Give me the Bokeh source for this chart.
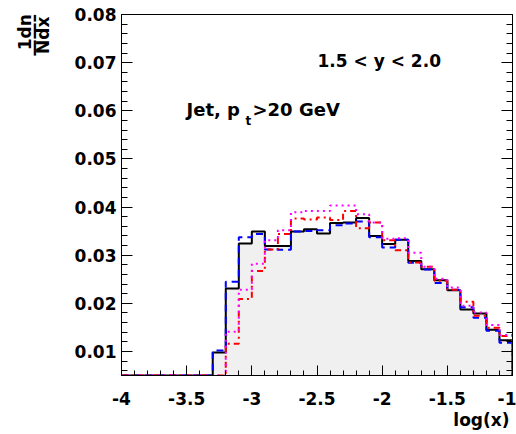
from bokeh.plotting import figure
from bokeh.models import Range1d, FixedTicker, LinearAxis, Label, Title
from bokeh.embed import file_html
from bokeh.resources import INLINE

# ---------------- data ----------------
bin_edges_lo = -4.0
bin_width = 0.1
n_bins = 30

black_vals = [0, 0, 0, 0, 0, 0, 0,
              0.0098, 0.0231, 0.0324, 0.0349, 0.0319, 0.0319, 0.0349, 0.0354, 0.0345,
              0.0367, 0.0368, 0.0377, 0.0340, 0.0323, 0.0332, 0.0288, 0.0271, 0.0248,
              0.0227, 0.0187, 0.0179, 0.0145, 0.0123]
blue_vals = [0, 0, 0, 0, 0, 0, 0,
             0.0102, 0.0245, 0.0337, 0.0344, 0.0312, 0.0311, 0.0349, 0.0350, 0.0352,
             0.0362, 0.0366, 0.0370, 0.0337, 0.0316, 0.0332, 0.0284, 0.0270, 0.0242,
             0.0228, 0.0192, 0.0170, 0.0143, 0.0118]
red_vals = [0, 0, 0, 0, 0, 0, 0,
            0.0030, 0.0116, 0.0209, 0.0267, 0.0312, 0.0344, 0.0376, 0.0374, 0.0378,
            0.0373, 0.0392, 0.0356, 0.0368, 0.0331, 0.0310, 0.0285, 0.0276, 0.0247,
            0.0228, 0.0203, 0.0174, 0.0149, 0.0132]
magenta_vals = [0, 0, 0, 0, 0, 0, 0,
                0.0030, 0.0141, 0.0228, 0.0282, 0.0331, 0.0352, 0.0389, 0.0392, 0.0392,
                0.0403, 0.0403, 0.0385, 0.0368, 0.0334, 0.0335, 0.0305, 0.0276, 0.0251,
                0.0233, 0.0195, 0.0181, 0.0155, 0.0134]

x_ticks = [-4, -3.5, -3, -2.5, -2, -1.5, -1]
x_tick_labels = ["-4", "-3.5", "-3", "-2.5", "-2", "-1.5", "-1"]
y_ticks = [0.01, 0.02, 0.03, 0.04, 0.05, 0.06, 0.07, 0.08]
y_tick_labels = ["0.01", "0.02", "0.03", "0.04", "0.05", "0.06", "0.07", "0.08"]

X_MIN, X_MAX = -4.0, -1.0
Y_MIN, Y_MAX = 0.005, 0.08

# ---------------- layout ----------------
W, H = 516, 434
LEFT, RIGHT, TOP, BOTTOM = 121, 4, 14, 59
FW = W - LEFT - RIGHT
FH = H - TOP - BOTTOM

def dx(px):
    return X_MIN + (px - LEFT) / FW * (X_MAX - X_MIN)

def dy(py):
    return Y_MAX - (py - TOP) / FH * (Y_MAX - Y_MIN)

FONT = "DejaVu Sans"

p = figure(width=W, height=H, x_range=Range1d(X_MIN, X_MAX), y_range=Range1d(Y_MIN, Y_MAX),
           output_backend="svg", toolbar_location=None, title=None,
           min_border_left=LEFT, min_border_right=RIGHT, min_border_top=TOP,
           min_border_bottom=BOTTOM)
p.background_fill_color = "white"
p.border_fill_color = "white"
p.outline_line_color = "black"
p.outline_line_width = 1
p.xgrid.visible = False
p.ygrid.visible = False

edges = [bin_edges_lo + i * bin_width for i in range(n_bins + 1)]

def step_coords(vals):
    xs = [edges[0]]
    ys = [Y_MIN]
    for i, v in enumerate(vals):
        vv = max(v, Y_MIN)
        xs += [edges[i], edges[i + 1]]
        ys += [vv, vv]
    xs.append(edges[-1])
    ys.append(Y_MIN)
    return xs, ys

bx, by = step_coords(black_vals)
p.patch(bx, by, fill_color="#f0f0f0", line_color=None)
p.line(bx, by, line_color="black", line_width=2)

ux, uy = step_coords(blue_vals)
p.line(ux, uy, line_color="#0000ff", line_width=2, line_dash="7 5")
rx, ry = step_coords(red_vals)
p.line(rx, ry, line_color="#ff0000", line_width=2, line_dash="6 4 2 4")
mx, my = step_coords(magenta_vals)
p.line(mx, my, line_color="#ff00ff", line_width=2, line_dash="2 4")

# ---------------- axes ----------------
x_minor = [round(-4 + 0.1 * k, 2) for k in range(31)]
y_minor = [round(0.006 + 0.002 * k, 3) for k in range(38)]

xt = FixedTicker(ticks=x_ticks, minor_ticks=x_minor)
yt = FixedTicker(ticks=y_ticks, minor_ticks=y_minor)

xa = p.xaxis[0]
xa.ticker = xt
xa.major_label_overrides = {t: l for t, l in zip(x_ticks, x_tick_labels)}
ya = p.yaxis[0]
ya.ticker = yt
ya.major_label_overrides = {t: l for t, l in zip(y_ticks, y_tick_labels)}

for ax in (xa, ya):
    ax.axis_line_color = "black"
    ax.major_tick_line_color = "black"
    ax.minor_tick_line_color = "black"
    ax.major_tick_out = 0
    ax.minor_tick_out = 0
    ax.major_label_text_font = FONT
    ax.major_label_text_font_style = "bold"
    ax.major_label_text_font_size = "17px"
    ax.major_label_text_color = "black"
xa.major_tick_in = 10
xa.minor_tick_in = 5
xa.major_label_standoff = 16
ya.major_tick_in = 11
ya.minor_tick_in = 6
ya.major_label_standoff = 5

ra = LinearAxis(ticker=yt)
ra.axis_line_color = "black"
ra.major_tick_out = 0
ra.minor_tick_out = 0
ra.major_tick_in = 11
ra.minor_tick_in = 6
ra.major_label_overrides = {t: "" for t in y_ticks}
ra.major_label_standoff = 0
p.add_layout(ra, "right")

# ---------------- texts ----------------
def lab(text, px, py, size, align="left", angle=0, baseline="alphabetic"):
    p.add_layout(Label(x=dx(px), y=dy(py), text=text, text_font=FONT,
                       text_font_style="bold", text_font_size=size,
                       text_align=align, text_baseline=baseline,
                       text_color="black", angle=angle, angle_units="deg"))

lab("1.5 < y < 2.0", 317, 60, "17px")
lab("Jet, p", 186, 109, "18px")
lab("t", 245, 120, "12px")
lab(">20 GeV", 252, 109, "18px")

# x-axis title, right aligned under the axis
xtitle = Title(text="log(x)", align="right", vertical_align="bottom", standoff=0, offset=3,
               text_font=FONT, text_font_style="bold", text_font_size="17px",
               text_color="black")
p.add_layout(xtitle, "below")

# y-axis title: fraction 1dn / Ndx, on an outer label-only axis, at the top
ta = LinearAxis(ticker=FixedTicker(ticks=[], minor_ticks=[]))
ta.axis_line_color = None
ta.major_tick_line_color = None
ta.minor_tick_line_color = None
ta.major_tick_out = 0
ta.minor_tick_out = 0
ta.major_tick_in = 0
ta.minor_tick_in = 0
ta.major_label_standoff = 0

placed = False
if hasattr(ta, "axis_label_align"):
    for al in ("end", "right", "top"):
        try:
            ta.axis_label_align = al
            placed = True
            break
        except Exception:
            pass

NB = "\u00a0"
if placed:
    # the label is centred on the top end: pad each line at its end so the
    # visible part runs downward from the top of the frame
    YTITLE = "1dn" + NB * 6 + "\n" + "\u2014\u2014\u2013" + NB * 7 + "\n" + "Ndx" + NB * 7
else:
    YTITLE = "1dn\n\u2014\u2014\u2013\nNdx"

ta.axis_label = YTITLE
ta.axis_label_standoff = 19
ta.axis_label_text_font = FONT
ta.axis_label_text_font_style = "bold"
ta.axis_label_text_font_size = "17px"
ta.axis_label_text_line_height = 0.44
ta.axis_label_text_color = "black"
p.add_layout(ta, "left")

open("out.html", "w").write(file_html(p, INLINE))
